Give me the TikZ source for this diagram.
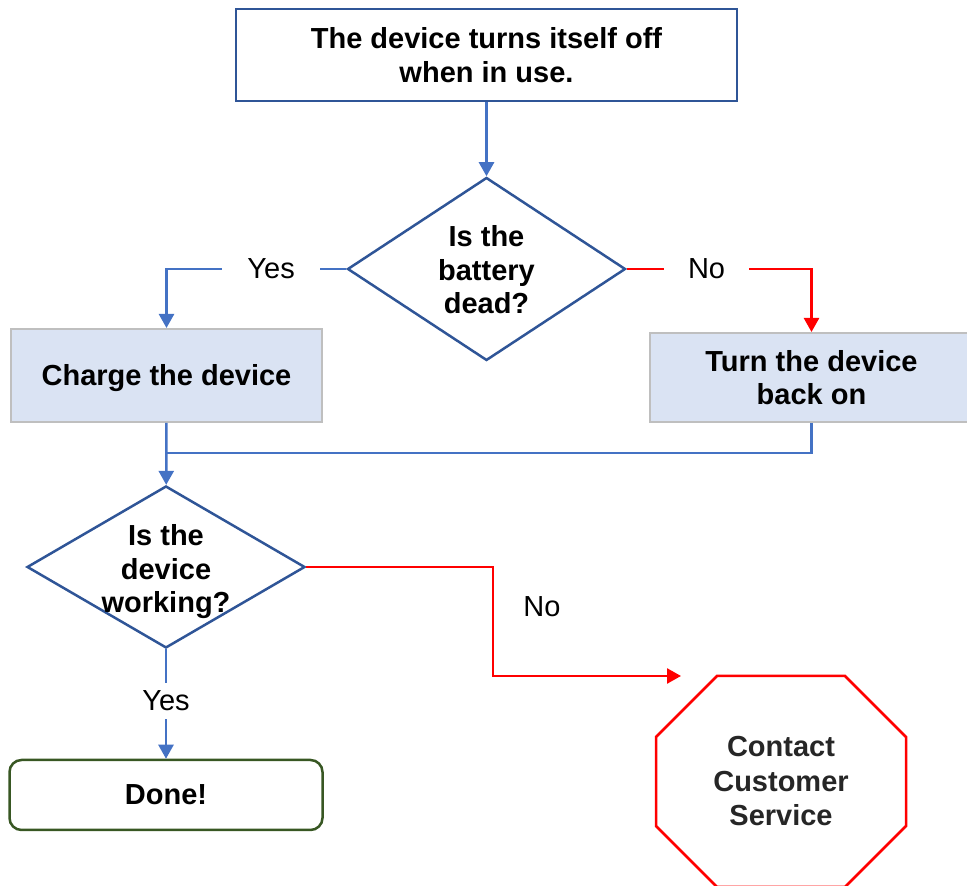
\documentclass[tikz,border=0pt]{standalone}
\usepackage{fontspec}
\setmainfont{Liberation Sans}
\usepackage{tikz}
\usetikzlibrary{shapes.geometric, arrows.meta, calc, positioning}
\definecolor{boxblue}{HTML}{2F5597}
\definecolor{lineblue}{HTML}{4472C4}
\definecolor{boxfill}{HTML}{DAE3F3}
\definecolor{boxgray}{HTML}{BFBFBF}
\definecolor{stopred}{HTML}{FF0000}
\definecolor{donegreen}{HTML}{385723}
\definecolor{textgray}{HTML}{262626}
\newcommand{\bigbold}{\fontsize{29}{33.5}\selectfont\bfseries}
\newcommand{\bigplain}{\fontsize{29}{33.5}\selectfont}
\tikzstyle{problem} = [rectangle, line width=2.5pt, minimum width=501pt, minimum height=92pt, align=center, draw=boxblue, font=\bigbold]
\tikzstyle{decision} = [diamond, line width=2.5pt, minimum width=278pt, inner sep=0pt, draw=boxblue]
\tikzstyle{question} = [align=center, font=\bigbold]
\tikzstyle{block} = [rectangle, line width=2pt, align=center, draw=boxgray, fill=boxfill, font=\bigbold]
\tikzstyle{finish} = [rectangle, rounded corners=12pt, line width=2.5pt, minimum width=313pt, minimum height=70pt, draw=donegreen, font=\bigbold]
\tikzstyle{stopsign} = [rectangle, outer sep=0pt, minimum width=250pt, minimum height=211pt, align=center, text=textgray, font=\fontsize{29}{34.5}\selectfont\bfseries]
\tikzstyle{stopline} = [line width=2.5pt, draw=stopred]
\tikzstyle{answer} = [fill=white, inner xsep=25pt, inner ysep=4pt, font=\bigplain]
\tikzstyle{line} = [line width=2.5pt, draw=lineblue]
\tikzstyle{arrow} = [line width=2.5pt, draw=lineblue, -{Triangle[width=15pt,length=14pt]}]
\tikzstyle{noarrow} = [arrow, draw=stopred]

\begin{document}
\begin{tikzpicture}[x=1pt, y=1pt]
		\useasboundingbox (0,0) rectangle (967,886);
		\clip (0,0) rectangle (967,886);
		\node (Issue) [problem] at (486.5,831) {The device turns itself off\\when in use.};
		\node (Battery) [decision, minimum height=183pt, below = 74pt of Issue] {};
		\node (BatteryText) [question] at ([yshift=-1pt]Battery.center) {Is the\\battery\\dead?};
		\node (Charge) [block, minimum width=311pt, minimum height=93pt, text depth=0pt] at (166.5,510.5) {Charge the device};
		\node (TurnOn) [block, minimum width=323pt, minimum height=89pt] at (811.5,508.5) {Turn the device\\back on};
		\node (Working) [decision, minimum height=162pt] at (166,319) {};
		\node (WorkingText) [question] at ([yshift=-5pt]Working.center) {Is the\\device\\working?};
		\node (Done) [finish, text depth=-2pt] at (166,91) {Done!};
		\node (Contact) [stopsign] at (781,104.5) {Contact\\Customer\\Service};
		\node (NoLabel) [font=\bigplain] at (542,279) {No};
		\coordinate (Merge) at (166.5,433);
		\coordinate (Bend) at (493,210);
		\coordinate (NoEnd) at (681,210);
		% octagon round the last step
		\draw [stopline] ($(Contact.north west)+(61,0)$) -- ($(Contact.north east)+(-61,0)$) -- ($(Contact.north east)+(0,-61)$) -- ($(Contact.south east)+(0,61)$) -- ($(Contact.south east)+(-61,0)$) -- ($(Contact.south west)+(61,0)$) -- ($(Contact.south west)+(0,61)$) -- ($(Contact.north west)+(0,-61)$) -- cycle;
		\draw [arrow] (Issue) -- (Battery);
		\draw [arrow] (Battery.west) -| node [answer, pos=0.209] {Yes} (Charge.north);
		\draw [noarrow] (Battery.east) -| node [answer, pos=0.216, text=black, inner xsep=24pt] {No} (TurnOn.north);
		\draw [arrow] (Charge) -- (Working);
		\draw [line] (TurnOn.south) |- (Merge);
		\draw [arrow] (Working) -- node [answer, pos=0.47, inner xsep=4pt, inner ysep=8pt] {Yes} (Done);
		\draw [noarrow] (Working.east) -| (Bend) -- (NoEnd);
		\end{tikzpicture}
\end{document}
